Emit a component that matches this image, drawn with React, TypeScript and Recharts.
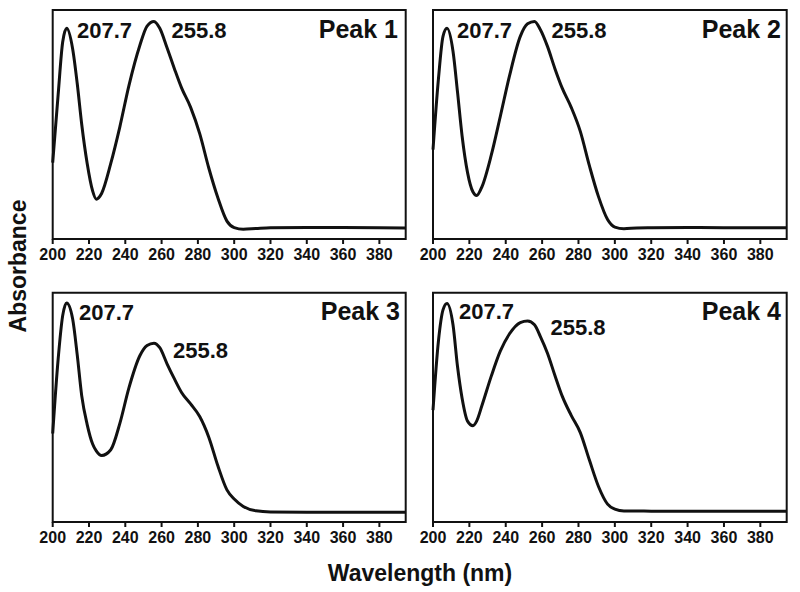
import React from 'react';
import { LineChart, Line, XAxis, YAxis, ReferenceArea } from 'recharts';

// wavelength grid (nm) shared by the four spectra
const wavelengths = [
  200, 203, 205.5, 207.7, 211, 213.5, 216, 219, 222, 224, 227, 232, 237, 242, 248, 252, 255.8,
  259, 263, 267, 271, 276, 281, 286, 291, 296, 300, 305, 312, 320, 340, 360, 380, 394.5,
];

// relative absorbance
const peak1 = [
  0.333, 0.63, 0.86, 0.92, 0.83, 0.68, 0.5, 0.33, 0.21, 0.174, 0.2, 0.33, 0.49, 0.67, 0.845, 0.93, 0.95,
  0.92, 0.835, 0.745, 0.66, 0.575, 0.46, 0.31, 0.18, 0.078, 0.05, 0.043, 0.046, 0.049, 0.05, 0.05, 0.049, 0.048,
];
const peak2 = [
  0.39, 0.7, 0.885, 0.92, 0.82, 0.64, 0.45, 0.29, 0.205, 0.19, 0.23, 0.365, 0.535, 0.71, 0.885, 0.94, 0.95,
  0.915, 0.84, 0.745, 0.66, 0.575, 0.47, 0.32, 0.185, 0.085, 0.052, 0.045, 0.048, 0.049, 0.05, 0.049, 0.049, 0.049,
];
const peak3 = [
  0.386, 0.71, 0.9, 0.955, 0.885, 0.73, 0.55, 0.425, 0.34, 0.31, 0.29, 0.315, 0.43, 0.585, 0.725, 0.77, 0.78,
  0.76, 0.69, 0.625, 0.565, 0.515, 0.46, 0.37, 0.245, 0.14, 0.1, 0.068, 0.049, 0.044, 0.043, 0.043, 0.043, 0.043,
];
const peak4 = [
  0.488, 0.79, 0.925, 0.953, 0.86, 0.677, 0.54, 0.44, 0.42, 0.44, 0.51, 0.635, 0.745, 0.82, 0.87, 0.877, 0.86,
  0.81, 0.735, 0.64, 0.55, 0.465, 0.39, 0.27, 0.155, 0.078, 0.056, 0.048, 0.048, 0.047, 0.047, 0.047, 0.047, 0.047,
];

const xTicks = [200, 220, 240, 260, 280, 300, 320, 340, 360, 380];
const peakNames = ['Peak 1', 'Peak 2', 'Peak 3', 'Peak 4'];
const peakLabels = ['207.7', '255.8'];

const FONT = '"Liberation Sans", Arial, Helvetica, sans-serif';
const INK = '#111';
const X_MAX = 394.5;

type PanelProps = {
  values: number[];
  left: number;
  top: number;
  width: number;
  height: number;
  margin: { top: number; right: number; left: number; bottom: number };
};

function SpectrumPanel({ values, left, top, width, height, margin }: PanelProps) {
  const data = wavelengths.map((w, i) => ({ w, a: values[i] }));
  return (
    <div style={{ position: 'absolute', left, top }}>
      <LineChart width={width} height={height} data={data} margin={margin}>
        <XAxis
          dataKey="w"
          type="number"
          domain={[200, X_MAX]}
          ticks={xTicks}
          height={40}
          axisLine={false}
          tickLine={{ stroke: INK, strokeWidth: 2 }}
          tickSize={5}
          tickMargin={5}
          interval={0}
          tick={{ fill: INK, fontSize: 16, fontWeight: 700, fontFamily: FONT }}
        />
        <YAxis hide domain={[0, 1]} />
        <ReferenceArea
          x1={200}
          x2={X_MAX}
          y1={0}
          y2={1}
          fill="none"
          fillOpacity={0}
          stroke={INK}
          strokeWidth={2}
        />
        <Line
          type="monotone"
          dataKey="a"
          stroke={INK}
          strokeWidth={3}
          dot={false}
          isAnimationActive={false}
        />
      </LineChart>
    </div>
  );
}

export default function App() {
  const leftMargin = { top: 10, right: 14.3, left: 52.7, bottom: 0 };
  const rightMargin = { top: 10, right: 13.3, left: 33, bottom: 0 };
  const annot = { fontFamily: FONT, fontWeight: 700, fill: INK } as const;

  return (
    <div style={{ position: 'absolute', left: 0, top: 0, width: 800, height: 592, background: '#fff' }}>
      <SpectrumPanel values={peak1} left={0} top={0} width={420} height={279} margin={leftMargin} />
      <SpectrumPanel values={peak2} left={400} top={0} width={400} height={279} margin={rightMargin} />
      <SpectrumPanel
        values={peak3}
        left={0}
        top={280}
        width={420}
        height={282}
        margin={{ ...leftMargin, top: 12.7 }}
      />
      <SpectrumPanel
        values={peak4}
        left={400}
        top={280}
        width={400}
        height={282}
        margin={{ ...rightMargin, top: 12.7 }}
      />

      <svg
        width={800}
        height={592}
        style={{ position: 'absolute', left: 0, top: 0, pointerEvents: 'none' }}
      >
        {/* peak wavelength annotations */}
        <text x={77} y={38} fontSize={22} {...annot}>{peakLabels[0]}</text>
        <text x={171.5} y={38} fontSize={22} {...annot}>{peakLabels[1]}</text>
        <text x={457} y={38} fontSize={22} {...annot}>{peakLabels[0]}</text>
        <text x={551.5} y={38} fontSize={22} {...annot}>{peakLabels[1]}</text>
        <text x={79} y={320} fontSize={22} {...annot}>{peakLabels[0]}</text>
        <text x={173} y={358} fontSize={22} {...annot}>{peakLabels[1]}</text>
        <text x={459} y={319} fontSize={22} {...annot}>{peakLabels[0]}</text>
        <text x={550.5} y={335} fontSize={22} {...annot}>{peakLabels[1]}</text>

        {/* panel names */}
        <text x={398} y={38} fontSize={25} textAnchor="end" {...annot}>{peakNames[0]}</text>
        <text x={781} y={38} fontSize={25} textAnchor="end" {...annot}>{peakNames[1]}</text>
        <text x={400} y={320} fontSize={25} textAnchor="end" {...annot}>{peakNames[2]}</text>
        <text x={781} y={320} fontSize={25} textAnchor="end" {...annot}>{peakNames[3]}</text>

        {/* axis titles */}
        <text
          x={0}
          y={0}
          fontSize={23}
          textAnchor="middle"
          transform="translate(26,266) rotate(-90)"
          {...annot}
        >
          Absorbance
        </text>
        <text x={420} y={581} fontSize={23} textAnchor="middle" {...annot}>
          Wavelength (nm)
        </text>
      </svg>
    </div>
  );
}
